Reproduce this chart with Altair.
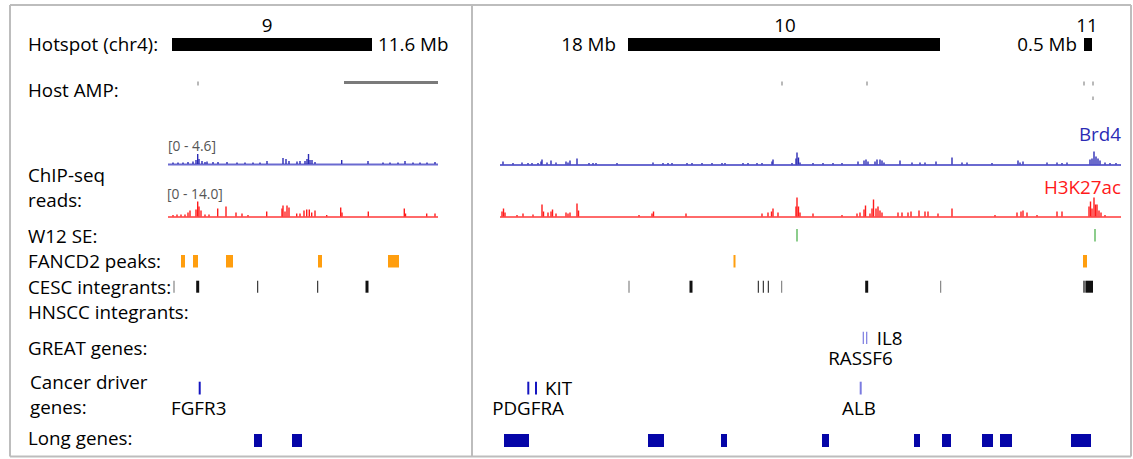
import altair as alt
import pandas as pd

W, H = 1133, 459

# ---------------- data (x in track coordinate units) ----------------
hotspot_names = ["9", "10", "11"]
hotspot_start = [172, 628, 1084]
hotspot_end = [372, 940, 1092]
hotspot_sizes = ["11.6 Mb", "18 Mb", "0.5 Mb"]

amp_ticks_x = [198, 782, 867, 1084, 1093]
amp_ticks2_x = [1093]
amp_segment = [344, 438]

brd4_left_pos = [173, 178, 183, 188, 193, 196, 197.7, 199, 202, 205, 207, 213, 218, 227, 237, 245, 253, 260, 267,
                 283, 286, 289, 297, 300, 305, 307, 308.5, 310, 312, 315, 341.7, 368, 383, 390, 398, 405, 413, 420, 427, 435]
brd4_left_val = [1.5, 1.5, 1.5, 2, 2.5, 4, 10, 5, 3, 2, 2.5, 2, 2, 2, 1.5, 1.5, 1.5, 1.5, 3,
                 6, 5, 3, 2.5, 3, 3, 5, 10, 4, 4, 2, 4, 3, 1.5, 1.5, 1.5, 3, 1.5, 1.5, 1.5, 2]
h3k_left_pos = [173, 177, 181, 185, 188, 190, 196, 197.7, 199, 201, 205, 209, 217.7, 226, 236, 242, 248, 266.7,
                282, 283, 285, 287, 289, 296.7, 300, 304, 306.7, 309.3, 311.7, 315, 326.7, 340.7, 342, 368.3,
                404.3, 405.5, 426.7, 435]
h3k_left_val = [1.5, 2, 2, 2, 4, 6, 7, 15, 10, 6, 2, 2, 8, 10, 4, 3, 1.5, 5,
                8, 11, 5, 11, 9, 3, 3, 6, 7, 7, 4, 6, 1.5, 9, 4, 5,
                8, 3, 3, 3]
brd4_right_pos = [503, 513, 522, 528, 532, 538, 541, 542, 547, 551, 556, 566, 568, 570, 577, 589, 593, 596, 617, 653,
                  663, 668, 672, 687, 692, 702, 712, 722, 725, 743, 748, 757, 762, 772, 773, 792, 796, 797, 798.5,
                  800, 813, 823, 833, 842, 858, 864, 866, 868, 875, 877, 880, 882, 884, 900, 912, 920, 925, 936,
                  952, 962, 967, 992, 1018, 1020, 1023, 1047, 1057, 1062, 1067, 1090, 1092, 1094, 1096, 1098,
                  1100, 1105, 1110, 1116]
brd4_right_val = [3, 1.5, 2, 1.5, 1.5, 1.5, 3, 5, 2, 4, 2, 3, 2, 4, 6, 1.5, 1.5, 1.5, 1.5, 2,
                  1.5, 1.5, 1.5, 1.5, 1.5, 1.5, 1.5, 1.5, 1.5, 1.5, 1.5, 1.5, 1.5, 3, 5, 1.5, 6, 12, 7,
                  2, 1.5, 1.5, 1.5, 1.5, 3, 4, 5, 3, 3, 5, 5, 4, 2, 4, 2, 2, 2, 3,
                  7, 2, 2, 1.5, 4, 2, 3, 2, 2, 1.5, 2, 5, 6, 13, 8, 6,
                  4, 2, 1.5, 1.5]
h3k_right_pos = [502, 503.5, 505, 517, 523, 533, 542, 543.5, 548, 551, 552.5, 556, 566, 568, 570, 577, 578.5, 639,
                 652, 653.5, 686, 762, 768, 771.5, 773, 778, 796, 797, 798.5, 800, 813, 842, 857, 860, 864, 865.5,
                 870, 872, 873.5, 876, 878, 880, 882, 898, 902, 908, 911, 919, 925, 928, 938, 952, 995, 1017,
                 1021, 1023, 1027, 1037, 1057, 1062, 1089, 1090.5, 1092, 1094, 1095.5, 1097, 1099, 1101, 1105]
h3k_right_val = [5, 8, 4, 1.5, 3, 2, 12, 5, 4, 5, 7, 3, 4, 3, 4, 13, 6, 1.5,
                 3, 5, 3, 3, 4, 5, 8, 4, 10, 19, 10, 4, 3, 1.5, 3, 4, 7, 11,
                 3, 8, 17, 8, 10, 6, 4, 4, 4, 4, 5, 6, 5, 5, 3, 8, 1.5, 4,
                 5, 6, 4, 1.5, 5, 5, 10, 15, 8, 19, 12, 12, 6, 4, 1.5]

w12_se_x = [797, 1095]

fancd2_start = [181, 193, 226, 318, 388, 733.5, 1083]
fancd2_end = [185, 198, 233, 322, 399, 735.5, 1087]

cesc_start = [173.5, 196.2, 257.2, 317.2, 365.5, 628.5, 689.5, 757.8, 762.8, 767.8, 781.2, 865.2, 940.2, 1083, 1086]
cesc_end = [174.5, 199.2, 258.2, 318.2, 368.5, 629.5, 692.5, 758.8, 763.8, 768.8, 782.2, 868.2, 941.2, 1086, 1093]
cesc_kind = ["gray", "black", "black", "black", "black", "gray", "black", "black", "black", "black", "gray",
             "black", "gray", "gray", "black"]

great_ticks = [863.3, 866.7]
great_labels = ["IL8", "RASSF6"]

driver_ticks = [199.7, 528.3, 536, 860.7]
driver_kind = ["dark", "dark", "dark", "light"]
driver_labels = ["FGFR3", "KIT", "PDGFRA", "ALB"]

long_start = [254, 292, 504, 648, 721, 822, 914, 942, 982, 1000, 1071]
long_end = [262, 302, 529, 664, 727, 829, 920, 951, 993, 1012, 1091]

# ---------------- layout ----------------
FONT = "Open Sans"
FS = 18.8
xs = alt.Scale(domain=[0, W], range=[0, W])
ys = alt.Scale(domain=[0, H], range=[0, H])
X = alt.X("x:Q", scale=xs, axis=None)
Y = alt.Y("y:Q", scale=ys, axis=None)

layers = []


def rects(x0, x1, y0, y1, color, opacity=1.0):
    df = pd.DataFrame({"x": x0, "x2": x1})
    df["y"] = y0
    df["y2"] = y1
    return alt.Chart(df).mark_rect(color=color, opacity=opacity).encode(
        x=X, x2="x2:Q", y=Y, y2="y2:Q")


def texts(x, y, labels, align, size=FS, color="black", baseline="middle"):
    df = pd.DataFrame({"x": x, "y": y, "t": labels})
    return alt.Chart(df).mark_text(align=align, baseline=baseline, fontSize=size, color=color,
                                   font=FONT).encode(x=X, y=Y, text="t:N")


def segs(x0, x1, y0, y1, color, width):
    df = pd.DataFrame({"x": x0, "x2": x1, "y": y0, "y2": y1})
    return alt.Chart(df).mark_rule(color=color, strokeWidth=width).encode(
        x=X, x2="x2:Q", y=Y, y2="y2:Q")


def signal(pos, val, base, color):
    df = pd.DataFrame({"x": pos, "v": val})
    df["y"] = base - df["v"]
    df["y2"] = base
    return alt.Chart(df).mark_rule(color=color, strokeWidth=1.4).encode(
        x=X, y=Y, y2="y2:Q")


# frame
layers.append(segs([10, 10, 10, 1131, 472], [1131, 1131, 10, 1131, 472],
                   [5, 456.5, 5, 5, 5], [5, 456.5, 456.5, 456.5, 456.5], "#bdbdbd", 2))

# row labels
row_labels = ["Hotspot (chr4):", "Host AMP:", "ChIP-seq", "reads:", "W12 SE:", "FANCD2 peaks:",
              "CESC integrants:", "HNSCC integrants:", "GREAT genes:", "Long genes:"]
row_y = [45, 91, 176, 201, 237, 262, 288, 313, 349, 439]
layers.append(texts([28] * len(row_labels), row_y, row_labels, "left"))
layers.append(texts([30, 30], [383, 408], ["Cancer driver", "genes:"], "left"))

# hotspots
layers.append(rects(hotspot_start, hotspot_end, 38, 51, "black"))
layers.append(texts([267, 785, 1087], [26, 26, 26], hotspot_names, "center"))
layers.append(texts([378], [45], [hotspot_sizes[0]], "left"))
layers.append(texts([616, 1077], [45, 45], hotspot_sizes[1:], "right"))

# host AMP
layers.append(rects([a - 0.6 for a in amp_ticks_x], [a + 0.6 for a in amp_ticks_x], 81.5, 85.5, "#8a8a8a"))
layers.append(rects([a - 0.6 for a in amp_ticks2_x], [a + 0.6 for a in amp_ticks2_x], 96.5, 100, "#8a8a8a"))
layers.append(rects([amp_segment[0]], [amp_segment[1]], 81, 84, "#7a7a7a"))

# ChIP-seq signal tracks
BLUE, RED = "#2b2bb5", "#ff1a1a"
layers.append(segs([168, 500], [438, 1121], [164.5, 165], [164.5, 165], "#6a6ad0", 2))
layers.append(segs([168, 500], [438, 1121], [217, 217], [217, 217], "#ff6a6a", 2))
layers.append(signal(brd4_left_pos, brd4_left_val, 164, BLUE))
layers.append(signal(brd4_right_pos, brd4_right_val, 164.5, BLUE))
layers.append(signal(h3k_left_pos, h3k_left_val, 216.5, RED))
layers.append(signal(h3k_right_pos, h3k_right_val, 216.5, RED))
layers.append(texts([168, 167], [146.5, 195], ["[0 - 4.6]", "[0 - 14.0]"], "left", size=13.8, color="#555555"))
layers.append(texts([1121], [135], ["Brd4"], "right", color="#2b2bb5"))
layers.append(texts([1121], [188], ["H3K27ac"], "right", color="#ff1a1a"))

# W12 SE
layers.append(rects([a - 0.7 for a in w12_se_x], [a + 0.7 for a in w12_se_x], 229, 241.5, "#5cb85c"))

# FANCD2 peaks
layers.append(rects(fancd2_start, fancd2_end, 255, 267.5, "#ff9e0f"))

# CESC integrants
cesc_colors = {"black": "#111111", "gray": "#6e6e6e"}
for kind in ["gray", "black"]:
    s = [a for a, k in zip(cesc_start, cesc_kind) if k == kind]
    e = [a for a, k in zip(cesc_end, cesc_kind) if k == kind]
    layers.append(rects(s, e, 280.7, 292.7, cesc_colors[kind]))

# GREAT genes
layers.append(rects([a - 0.6 for a in great_ticks], [a + 0.6 for a in great_ticks], 331.7, 344, "#7b7be0"))
layers.append(texts([876.7], [339], [great_labels[0]], "left"))
layers.append(texts([860.5], [358.5], [great_labels[1]], "center"))

# Cancer driver genes
dk = {"dark": "#1515c0", "light": "#7b7be0"}
for kind in ["dark", "light"]:
    t = [a for a, k in zip(driver_ticks, driver_kind) if k == kind]
    layers.append(rects([a - 1 for a in t], [a + 1 for a in t], 381.7, 394.5, dk[kind]))
layers.append(texts([198.7, 528, 859], [408.5, 409, 408.5], ["FGFR3", "PDGFRA", "ALB"], "center"))
layers.append(texts([545], [388.5], ["KIT"], "left"))

# Long genes
layers.append(rects(long_start, long_end, 434, 447, "#0505a8"))

chart = alt.layer(*layers).properties(
    width=W, height=H, padding=0, autosize=alt.AutoSizeParams(type="none")
).configure_view(stroke=None)

chart.save("out.html", embed_options={"renderer": "svg", "actions": False})
